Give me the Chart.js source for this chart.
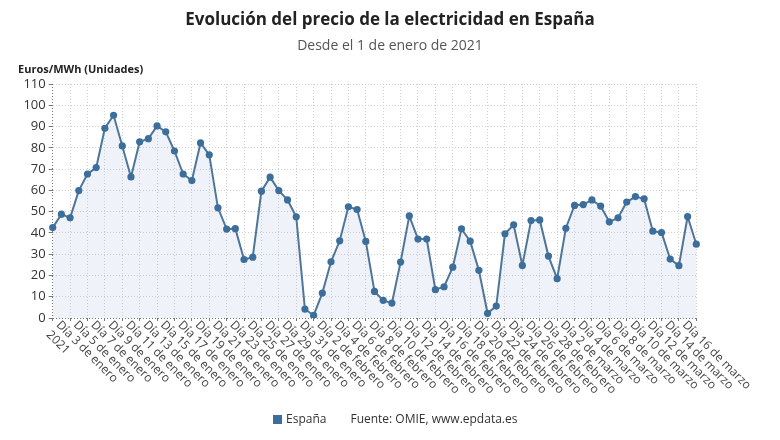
<!DOCTYPE html>
<html lang="es">
<head>
<meta charset="utf-8">
<title>Evolución del precio de la electricidad en España</title>
<script src="https://cdn.jsdelivr.net/npm/chart.js@4.4.1/dist/chart.umd.min.js"></script>
<style>
  body { margin: 0; background: #fff; font-family: "Open Sans", sans-serif; }
  .wrap { position: relative; width: 780px; height: 440px; overflow: hidden; }
  #chart { position: absolute; left: 0; top: 0; }
  .title { position: absolute; left: 0; top: 7px; width: 780px; text-align: center; font-size: 17px; font-weight: 700; color: #222; }
  .subtitle { position: absolute; left: 0; top: 35px; width: 780px; text-align: center; font-size: 14px; color: #555; }
  .unit { position: absolute; left: 18px; top: 61px; font-size: 11px; font-weight: 700; color: #222; }
  .foot { position: absolute; left: 273px; top: 410px; font-size: 12px; color: #333; }
  .foot .sq { display: inline-block; width: 9px; height: 9px; background: #3c6e9c; margin-right: 4px; vertical-align: -1px; }
  .foot .src { margin-left: 24px; }
</style>
</head>
<body>
<div class="wrap">
  <canvas id="chart" width="780" height="440"></canvas>
  <div class="title">Evolución del precio de la electricidad en España</div>
  <div class="subtitle">Desde el 1 de enero de 2021</div>
  <div class="unit">Euros/MWh (Unidades)</div>
  <div class="foot"><span class="sq"></span>España<span class="src">Fuente: OMIE, www.epdata.es</span></div>
</div>
<script>
// months covered and how many days of each
const monthNames = ["enero", "febrero", "marzo"];
const monthDays = [31, 28, 16];
const year = "2021";

// precio diario, euros/MWh (1 ene - 16 mar)
const precio = [
  42.5, 48.8, 47.1, 59.9, 67.7, 70.7, 89.2, 95.3, 80.9, 66.3,
  82.8, 84.3, 90.3, 87.5, 78.5, 67.7, 64.6, 82.3, 76.7, 51.8,
  41.8, 42.0, 27.5, 28.6, 59.6, 66.2, 59.9, 55.5, 47.6, 4.2,
  1.2, 11.7, 26.4, 36.3, 52.3, 51.0, 36.0, 12.5, 8.3, 7.0,
  26.3, 48.0, 37.1, 37.1, 13.3, 14.7, 23.9, 41.9, 36.1, 22.4,
  2.2, 5.6, 39.6, 43.8, 24.7, 45.8, 46.1, 29.1, 18.5, 42.2,
  52.9, 53.3, 55.5, 52.6, 45.2, 47.1, 54.5, 57.1, 56.0, 40.8,
  40.2, 27.7, 24.6, 47.7, 34.7
];

const yMin = 0;
const yMax = 110;
const yStep = 10;

const days = [];
monthNames.forEach((m, k) => {
  for (let d = 1; d <= monthDays[k]; d++) days.push(`Día ${d} de ${m}`);
});

const lineColor = "#4f7699";
const dotColor = "#3c6e9c";
const gridColor = "#cfcfcf";
const axisColor = "#777";

// x labels go down to the right, so they are drawn here from the x scale
const diagonalLabels = {
  id: "diagonalLabels",
  afterDraw(chart) {
    const { ctx } = chart;
    const x = chart.scales.x;
    ctx.save();
    ctx.font = "12px 'Open Sans'";
    ctx.fillStyle = "#444";
    ctx.textAlign = "left";
    ctx.textBaseline = "middle";
    days.forEach((label, i) => {
      if (i < 2 || i % 2) return;
      const px = x.getPixelForValue(i);
      ctx.save();
      ctx.translate(px - 12, x.top + 5);
      ctx.rotate(Math.PI / 4);
      ctx.fillText(label, 0, 0);
      if (i === 2) ctx.fillText(year, 0, 14);
      ctx.restore();
    });
    ctx.restore();
  },
};

new Chart(document.getElementById("chart"), {
  type: "line",
  data: {
    labels: days,
    datasets: [
      {
        label: "España",
        data: precio,
        borderColor: lineColor,
        borderWidth: 2,
        backgroundColor: "rgba(190,208,230,0.25)",
        fill: "origin",
        tension: 0,
        pointRadius: 3.6,
        pointBorderWidth: 0,
        pointBackgroundColor: dotColor,
      },
    ],
  },
  options: {
    responsive: false,
    animation: false,
    layout: {
      padding: { top: 84, left: 0, right: 83.7, bottom: 0 },
    },
    plugins: {
      legend: { display: false },
      tooltip: { enabled: false },
    },
    scales: {
      x: {
        offset: false,
        afterFit(scale) {
          scale.height = 122;
        },
        ticks: { display: false, autoSkip: false },
        grid: {
          color: (c) => (c.index === 0 ? axisColor : c.index % 2 === 0 ? gridColor : "transparent"),
          tickColor: (c) => (c.index % 2 === 0 ? axisColor : "transparent"),
          tickLength: 3,
        },
        border: { display: false, dash: [1, 2] },
      },
      y: {
        min: yMin,
        max: yMax,
        afterFit(scale) {
          scale.width = 52.7;
        },
        ticks: {
          stepSize: yStep,
          color: "#333",
          font: { family: "'Open Sans'", size: 13 },
          padding: 3,
        },
        grid: {
          color: (c) => (c.tick && c.tick.value === 0 ? axisColor : gridColor),
          tickColor: axisColor,
          tickLength: 4,
        },
        border: { display: false, dash: [1, 2] },
      },
    },
  },
  plugins: [diagonalLabels],
});
</script>
</body>
</html>
